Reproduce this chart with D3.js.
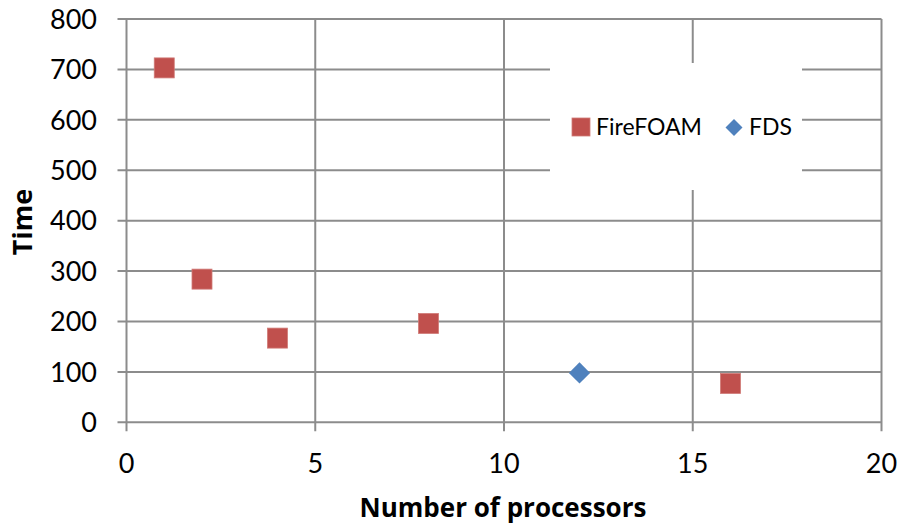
<!DOCTYPE html>
<html><head><meta charset="utf-8">
<script src="https://cdn.jsdelivr.net/npm/d3@7"></script>
<style>body{margin:0;background:#fff}svg{display:block}text{font-family:Lato,"Open Sans",sans-serif}</style>
</head><body><svg id="c" width="902" height="529"></svg>
<script>
const fireX = [1, 2, 4, 8, 16];
const fireY = [703, 284, 167, 196, 77];
const fdsX = [12];
const fdsY = [98];
const xTicks = [0, 5, 10, 15, 20];
const yTicks = [0, 100, 200, 300, 400, 500, 600, 700, 800];
const seriesNames = ["FireFOAM", "FDS"];

const svg = d3.select("#c");
const L = 126.5, R = 881.5, T = 19, B = 422.3;
const x = d3.scaleLinear().domain([0, 20]).range([L, R]);
const y = d3.scaleLinear().domain([0, 800]).range([B, T]);
const grid = "#8c8c8c";

// gridlines
const g = svg.append("g");
g.selectAll(".hg").data(yTicks).join("line")
  .attr("x1", L - 9).attr("x2", R).attr("y1", d => y(d)).attr("y2", d => y(d))
  .attr("stroke", grid).attr("stroke-width", 2);
g.selectAll(".vg").data(xTicks).join("line")
  .attr("x1", d => x(d)).attr("x2", d => x(d)).attr("y1", T).attr("y2", B + 9)
  .attr("stroke", grid).attr("stroke-width", 2);

// axis labels
svg.append("g").selectAll("text").data(yTicks).join("text")
  .attr("x", 97).attr("y", d => y(d)).attr("dy", "0.36em")
  .attr("text-anchor", "end").attr("font-size", 27).attr("fill", "#000").text(d => d);
svg.append("g").selectAll("text").data(xTicks).join("text")
  .attr("x", d => x(d)).attr("y", 473)
  .attr("text-anchor", "middle").attr("font-size", 27).attr("fill", "#000").text(d => d);

svg.append("text").attr("x", 503).attr("y", 517).attr("text-anchor", "middle")
  .style("font-family", "'Open Sans',sans-serif")
  .attr("font-size", 26).attr("font-weight", "bold").text("Number of processors");
svg.append("text").attr("transform", "translate(32,222) rotate(-90)").attr("text-anchor", "middle")
  .style("font-family", "'Open Sans',sans-serif")
  .attr("font-size", 27).attr("font-weight", "bold").text("Time");

// legend background
svg.append("rect").attr("x", 550).attr("y", 63).attr("width", 252).attr("height", 127).attr("fill", "#fff");

// points
const fire = fireX.map((v, i) => ({x: v, y: fireY[i]}));
const fds = fdsX.map((v, i) => ({x: v, y: fdsY[i]}));
const s = 20;
svg.append("g").selectAll("rect").data(fire).join("rect")
  .attr("x", d => x(d.x) - s / 2).attr("y", d => y(d.y) - s / 2)
  .attr("width", s).attr("height", s).attr("fill", "#C0504D")
  .attr("stroke", "#d07a77").attr("stroke-width", 0.8);
const ds = 15;
svg.append("g").selectAll("rect").data(fds).join("rect")
  .attr("transform", d => `translate(${x(d.x)},${y(d.y)}) rotate(45)`)
  .attr("x", -ds / 2).attr("y", -ds / 2).attr("width", ds).attr("height", ds)
  .attr("fill", "#4F81BD");

// legend
svg.append("rect").attr("x", 572).attr("y", 118).attr("width", 18).attr("height", 18)
  .attr("fill", "#C0504D").attr("stroke", "#d07a77").attr("stroke-width", 0.8);
svg.append("text").attr("x", 596).attr("y", 135).attr("font-size", 23).text(seriesNames[0]);
svg.append("rect").attr("transform", "translate(734,127.5) rotate(45)")
  .attr("x", -6).attr("y", -6).attr("width", 12).attr("height", 12).attr("fill", "#4F81BD");
svg.append("text").attr("x", 749).attr("y", 135).attr("font-size", 23).text(seriesNames[1]);
</script></body></html>
